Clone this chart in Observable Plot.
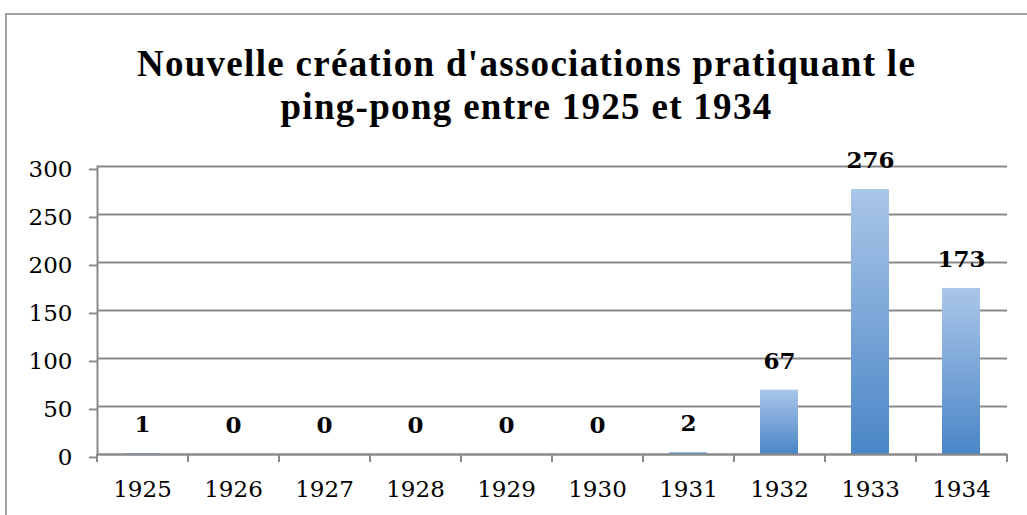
<!DOCTYPE html>
<html>
<head>
<meta charset="utf-8">
<script src="https://cdn.jsdelivr.net/npm/d3@7"></script>
<script src="https://cdn.jsdelivr.net/npm/@observablehq/plot@0.6"></script>
<style>
  html, body { margin: 0; padding: 0; background: #fff; width: 1027px; height: 515px; overflow: hidden; }
  #frame { position: absolute; left: 5px; top: 13px; width: 1040px; height: 520px; border: 2px solid #a3a3a3; box-sizing: border-box; }
  #title { position: absolute; left: 0; top: 42px; width: 1053px; text-align: center; font-family: "Liberation Serif", serif; font-weight: bold; font-size: 37px; letter-spacing: 1.3px; line-height: 43px; color: #000; }
  #chart { position: absolute; left: 0; top: 140px; }
</style>
</head>
<body>
<div id="frame"></div>
<div id="title">Nouvelle création d'associations pratiquant le<br>ping-pong entre 1925 et 1934</div>
<div id="chart"></div>
<script>
const years = ["1925","1926","1927","1928","1929","1930","1931","1932","1933","1934"];
const counts = [1, 0, 0, 0, 0, 0, 2, 67, 276, 173];
const yTicks = [0, 50, 100, 150, 200, 250, 300];

const data = years.map((y, i) => ({year: y, value: counts[i]}));

const W = 1027, H = 375, mL = 97, mR = 20, mT = 26, mB = 61;
const step = (W - mL - mR) / years.length;
const grey = "#8a8a8a";

const defs = () => {
  const d = d3.create("svg:defs");
  const g = d.append("linearGradient").attr("id", "barGrad").attr("x1", 0).attr("y1", 0).attr("x2", 0).attr("y2", 1);
  g.append("stop").attr("offset", "0%").attr("stop-color", "#aac6e8");
  g.append("stop").attr("offset", "100%").attr("stop-color", "#4a86c7");
  const f = d.append("filter").attr("id", "shadow").attr("x", "-20%").attr("y", "-5%").attr("width", "140%").attr("height", "110%");
  f.append("feDropShadow").attr("dx", 1).attr("dy", 0).attr("stdDeviation", 1.5).attr("flood-color", "#000").attr("flood-opacity", 0.25);
  return d.node();
};

const plot = Plot.plot({
  width: W, height: H,
  marginLeft: mL, marginRight: mR, marginTop: mT, marginBottom: mB,
  style: {fontFamily: "DejaVu Serif, serif", fontSize: "23px", color: "#000", background: "transparent"},
  x: {domain: years, paddingInner: 0.58, paddingOuter: 0.29, label: null},
  y: {domain: [0, 300], label: null},
  marks: [
    defs,
    Plot.gridY(yTicks, {stroke: grey, strokeOpacity: 1, strokeWidth: 2}),
    Plot.axisY(yTicks, {tickSize: 8, tickPadding: 17, dy: 3, stroke: grey, strokeWidth: 2, fontSize: 23, label: null}),
    Plot.frame({anchor: "left", stroke: grey, strokeWidth: 2}),
    Plot.axisX(years, {tickSize: 0, tickPadding: 26, fontSize: 23, label: null}),
    Plot.axisX(years, {tickSize: 8, text: null, dx: -step / 2, stroke: grey, strokeWidth: 2, label: null}),
    Plot.axisX([years[years.length - 1]], {tickSize: 8, text: null, dx: step / 2, stroke: grey, strokeWidth: 2, label: null}),
    Plot.barY(data, {x: "year", y: "value", fill: "url(#barGrad)", filter: d => d.value > 0, style: "filter: url(#shadow)"}),
    Plot.ruleY([0], {stroke: grey, strokeWidth: 2}),
    Plot.text(data, {x: "year", y: "value", text: d => String(d.value), dy: -29, fontWeight: "bold", fontSize: 23, fill: "#000", fontFamily: "DejaVu Serif, serif"})
  ]
});
document.getElementById("chart").appendChild(plot);
</script>
</body>
</html>
